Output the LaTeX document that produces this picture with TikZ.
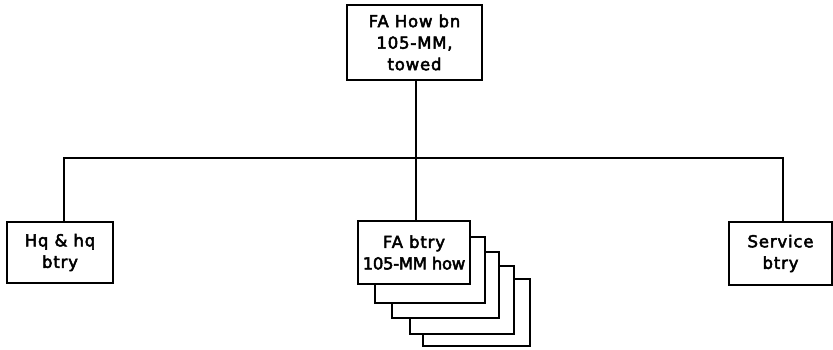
\documentclass[tikz,border=0pt]{standalone}
\usepackage{fontspec}
\setmainfont{DejaVu Sans}
\newfontfamily\lbl[LetterSpace=5,FakeBold=3]{DejaVu Sans}
\begin{document}
\begin{tikzpicture}[x=1pt,y=-1pt,
  box/.style={draw,line width=2.4pt,fill=white,align=center,inner sep=0pt,
    font=\lbl\fontsize{16.5}{21.5}\selectfont},
  line/.style={line width=2.4pt},
  back/.style={draw,line width=2.4pt,fill=white}]
\useasboundingbox (0,0) rectangle (833,349);
\node[box,minimum width=135pt,minimum height=75pt] (top) at (414.5,42.5) {FA How bn\\105-MM,\\towed};
\node[box,minimum width=106pt,minimum height=61pt] (hq) at (60,252.5) {Hq \& hq\\btry};
\node[box,minimum width=103pt,minimum height=63pt] (svc) at (780.5,253.5) {Service\\btry};
\filldraw[back] (423,279) rectangle (530,346);
\filldraw[back] (410,266) rectangle (514,334);
\filldraw[back] (392,252) rectangle (499,318);
\filldraw[back] (375,237) rectangle (485,303);
\node[box,minimum width=112pt,minimum height=63pt] (fa) at (414,252.5) {FA btry\\{\addfontfeature{LetterSpace=-2}105-MM how}};
\coordinate (jm) at (416,158);
\draw[line] ([xshift=1.5pt]top.south) -- (jm) -- ([xshift=2pt]fa.north);
\draw[line] ([xshift=4pt]hq.north) |- (jm) -| ([xshift=2.5pt]svc.north);
\end{tikzpicture}
\end{document}
